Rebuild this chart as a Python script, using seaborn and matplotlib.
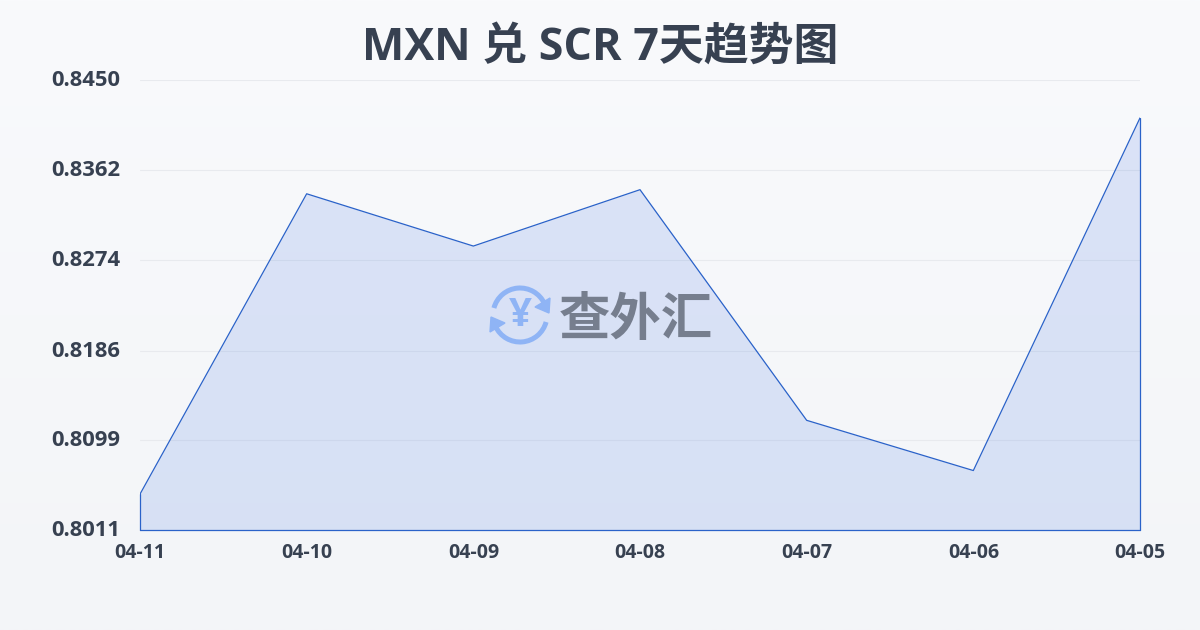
import numpy as np
import pandas as pd
import matplotlib
matplotlib.use('Agg')
import matplotlib.pyplot as plt
from matplotlib.patches import Arc, Polygon
from matplotlib.transforms import ScaledTranslation
import seaborn as sns

dates = ['04-11', '04-10', '04-09', '04-08', '04-07', '04-06', '04-05']
rates = [0.8046, 0.8339, 0.8288, 0.8343, 0.8118, 0.8069, 0.8413]
y_ticks = [0.8011, 0.8099, 0.8186, 0.8274, 0.8362, 0.8450]
y_labels = ['0.8011', '0.8099', '0.8186', '0.8274', '0.8362', '0.8450']

sns.set_style('white')
plt.rcParams['font.family'] = ['Open Sans', 'Noto Sans CJK SC', 'DejaVu Sans']

W, H = 1200, 630
fig = plt.figure(figsize=(12, 6.3), dpi=100)

# page background, light vertical gradient
bg = fig.add_axes([0, 0, 1, 1], zorder=0)
grad = np.linspace(0, 1, 256).reshape(-1, 1)
cmap = matplotlib.colors.LinearSegmentedColormap.from_list('bg', ['#f9fafc', '#f3f5f8'])
bg.imshow(grad, aspect='auto', cmap=cmap, extent=[0, W, H, 0])
bg.set_xlim(0, W)
bg.set_ylim(H, 0)
bg.axis('off')

ax = fig.add_axes([140 / W, 1 - 530 / H, 1000 / W, 450 / H], zorder=1)
ax.patch.set_alpha(0)

df = pd.DataFrame({'date': dates, 'rate': rates})
line_col = '#2a62c9'
sns.lineplot(data=df, x='date', y='rate', ax=ax, color=line_col, linewidth=0.9, zorder=4)
ax.fill_between(df['date'], df['rate'], y_ticks[0], facecolor='#4474e4', alpha=0.16, linewidth=0, zorder=3)
# thin outline down the sides and along the bottom
ax.plot([dates[0], dates[0]], [y_ticks[0], rates[0]], color=line_col, lw=0.9, zorder=4, clip_on=False)
ax.plot([dates[-1], dates[-1]], [y_ticks[0], rates[-1]], color=line_col, lw=0.9, zorder=4, clip_on=False)
ax.plot([dates[0], dates[-1]], [y_ticks[0], y_ticks[0]], color=line_col, lw=0.9, zorder=4, clip_on=False)

ax.set_xlim(0, len(dates) - 1)
ax.set_ylim(y_ticks[0], y_ticks[-1])
ax.set_yticks(y_ticks)
ax.set_yticklabels(y_labels, fontsize=15.8, fontweight='bold', color='#374151')
ax.tick_params(axis='y', length=0, pad=14)
ax.tick_params(axis='x', length=0, pad=9, labelsize=14, labelcolor='#374151')
for lab in ax.get_xticklabels():
    lab.set_fontweight('bold')
# y labels sit about 2px above their gridlines
up = ScaledTranslation(0, 2 / 100, fig.dpi_scale_trans)
for lab in ax.get_yticklabels():
    lab.set_transform(lab.get_transform() + up)
ax.set_xlabel('')
ax.set_ylabel('')
ax.grid(axis='y', color='#e8eaee', linewidth=0.8)
ax.set_axisbelow(True)
sns.despine(ax=ax, left=True, bottom=True, top=True, right=True)

fig.text(0.5, 1 - 48 / H, 'MXN 兑 SCR 7天趋势图', ha='center', va='center',
         fontsize=32.3, fontweight='bold', color='#374151')

# watermark on a pixel-coordinate overlay
ov = fig.add_axes([0, 0, 1, 1], zorder=5)
ov.set_xlim(0, W)
ov.set_ylim(H, 0)
ov.axis('off')
logo = '#8fb4f5'
ov.add_patch(Arc((520, 315), 54, 54, theta1=195, theta2=335, color=logo, lw=3.6))
ov.add_patch(Arc((520, 315), 54, 54, theta1=15, theta2=155, color=logo, lw=3.6))
ov.add_patch(Polygon([[550, 298], [549, 313], [535, 307]], color=logo))
ov.add_patch(Polygon([[490, 332], [491, 317], [505, 323]], color=logo))
ov.text(520, 315, '¥', ha='center', va='center', fontsize=29, fontweight='bold', color=logo)
ov.text(636, 319, '查外汇', ha='center', va='center', fontsize=37, fontweight='bold',
        family=['Noto Sans CJK SC'], color='#767e8e')

fig.savefig('out.png', dpi=100)
